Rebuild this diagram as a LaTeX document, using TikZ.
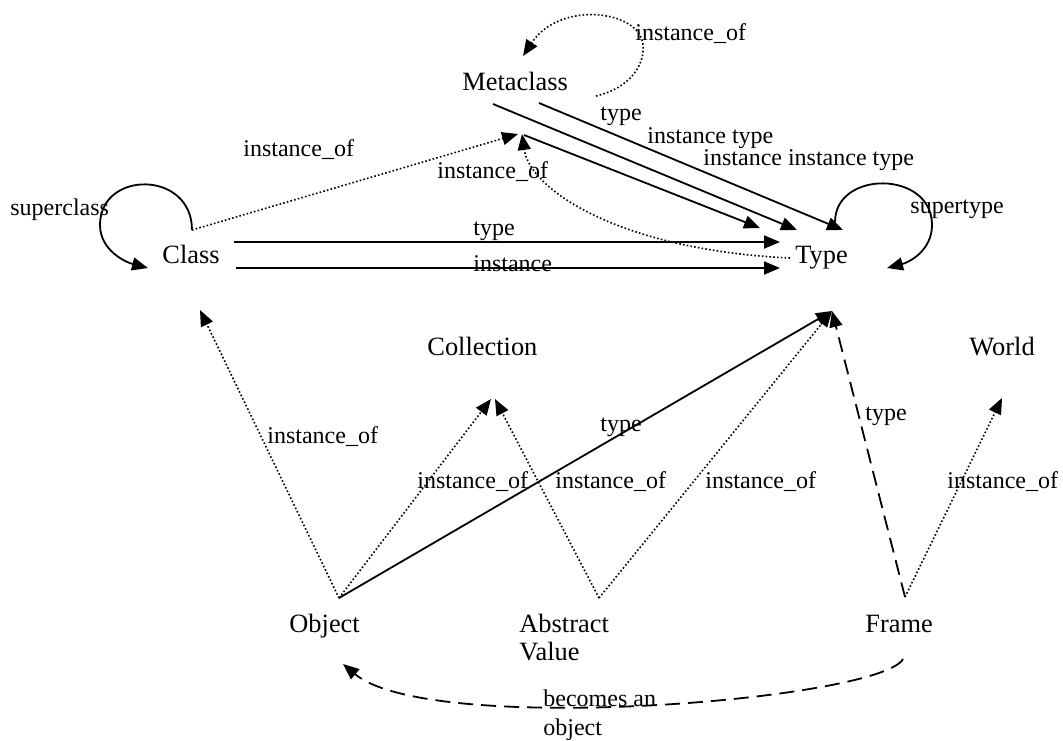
\documentclass[tikz,border=0pt]{standalone}
\usepackage{fontspec}
\setmainfont{Liberation Serif}
\usetikzlibrary{arrows.meta}

\begin{document}
\begin{tikzpicture}[x=0.5pt, y=-0.5pt,
    concept/.style={anchor=base west, inner sep=0pt, font=\fontsize{13.2}{14}\selectfont},
    lbl/.style={anchor=base west, inner sep=0pt, font=\fontsize{12}{14.5}\selectfont},
    rel/.style={line width=0.9pt, -{Triangle[length=8pt,width=6.5pt]}},
    inst/.style={rel, line width=0.8pt, dash pattern=on 0.8pt off 1.1pt},
    morph/.style={rel, dash pattern=on 7.5pt off 4pt}]
    \useasboundingbox (0,0) rectangle (1063,740);
    % concepts
    \node[concept] (meta) at (462,90) {Metaclass};
    \node[concept] (class) at (162,263) {Class};
    \node[concept] (type) at (795,263) {Type};
    \node[concept] (coll) at (427,355) {Collection};
    \node[concept] (world) at (969,355) {World};
    \node[concept] (obj) at (289,632) {Object};
    \node[concept, align=left] (absval) at (519,660) {Abstract\\Value};
    \node[concept] (frame) at (865,632) {Frame};
    % end points of the connectors
    \coordinate (cls-top) at (192,230);
    \coordinate (cls-in) at (148,268);
    \coordinate (cls-r1) at (234,242);
    \coordinate (cls-r2) at (236,268);
    \coordinate (cls-bot) at (200,310);
    \coordinate (meta-in1) at (518,134);
    \coordinate (meta-in2) at (522,134);
    \coordinate (meta-lp1) at (596,96);
    \coordinate (meta-lp2) at (523,56);
    \coordinate (meta-o1) at (524,135);
    \coordinate (meta-o2) at (493,104);
    \coordinate (meta-o3) at (539,103);
    \coordinate (type-l1) at (780,242);
    \coordinate (type-l2) at (780,268);
    \coordinate (type-t1) at (760,228);
    \coordinate (type-t2) at (797,230);
    \coordinate (type-t3) at (843,230);
    \coordinate (type-lp1) at (835,222);
    \coordinate (type-lp2) at (887,268);
    \coordinate (type-dot) at (790,258);
    \coordinate (type-bot) at (832,311);
    \coordinate (coll-b1) at (491,399);
    \coordinate (coll-b2) at (495,399);
    \coordinate (world-bot) at (1002,398);
    \coordinate (obj-top) at (339,598);
    \coordinate (obj-bot) at (343,664);
    \coordinate (abs-top) at (599,598);
    \coordinate (frm-top) at (905,597);
    \coordinate (frm-bot) at (903,659);
    % Class and Metaclass
    \draw[rel] (cls-top) .. controls (192,170) and (100,170) .. (100,225) .. controls (100,250) and (125,262) .. (cls-in);
    \node[lbl] (l-sup) at (10,215) {superclass};
    \draw[inst] (cls-top) -- (meta-in1);
    \node[lbl] (l-io1) at (243,156) {instance\_of};
    \draw[inst] (meta-lp1) .. controls (630,88) and (645,65) .. (643,45) .. controls (640,10) and (560,0) .. (meta-lp2);
    \node[lbl] (l-io2) at (635,40) {instance\_of};
    \draw[inst] (type-dot) .. controls (620,250) and (530,190) .. (meta-in2);
    \node[lbl] (l-io3) at (437,178) {instance\_of};
    % towards Type
    \draw[rel] (meta-o1) -- (type-t1);
    \draw[rel] (meta-o2) -- (type-t2);
    \draw[rel] (meta-o3) -- (type-t3);
    \node[lbl] (l-t1) at (600,120) {type};
    \node[lbl] (l-t2) at (647,143) {instance type};
    \node[lbl] (l-t3) at (703,165) {instance instance type};
    \draw[rel] (cls-r1) -- (type-l1);
    \draw[rel] (cls-r2) -- (type-l2);
    \node[lbl] (l-t4) at (473,235) {type};
    \node[lbl] (l-ins) at (473,271) {instance};
    \draw[rel] (type-lp1) .. controls (835,170) and (932,170) .. (932,225) .. controls (932,250) and (910,262) .. (type-lp2);
    \node[lbl] (l-supt) at (910,213) {supertype};
    % lower row
    \draw[inst] (obj-top) -- (cls-bot);
    \node[lbl] (l-io4) at (267,443) {instance\_of};
    \draw[inst] (obj-top) -- (coll-b1);
    \draw[rel] (obj-top) -- (type-bot);
    \node[lbl] (l-t5) at (600,431) {type};
    \draw[inst] (abs-top) -- (coll-b2);
    \draw[inst] (abs-top) -- (type-bot);
    \node[lbl] (l-io5) at (417,488) {instance\_of};
    \node[lbl] (l-io6) at (555,488) {instance\_of};
    \node[lbl] (l-io7) at (705,488) {instance\_of};
    \draw[morph] (frm-top) -- (type-bot);
    \node[lbl] (l-t6) at (865,420) {type};
    \draw[inst] (frm-top) -- (world-bot);
    \node[lbl] (l-io8) at (947,488) {instance\_of};
    \draw[morph] (frm-bot) .. controls (880,700) and (430,737) .. (obj-bot);
    \node[lbl, align=left] (l-obj) at (543,735) {becomes an\\object};
\end{tikzpicture}
\end{document}
